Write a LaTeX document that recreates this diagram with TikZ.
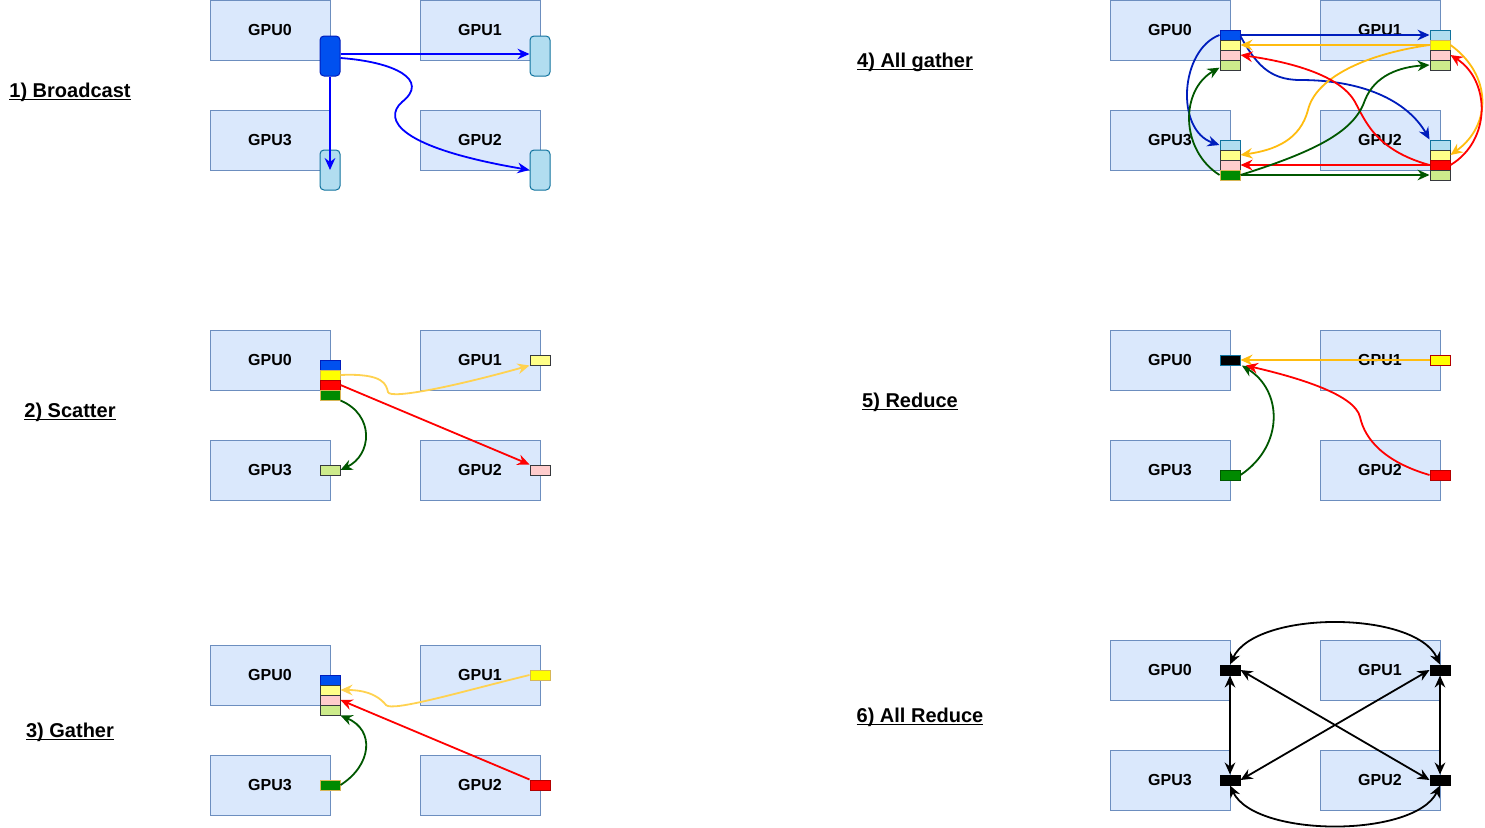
\documentclass[tikz,border=0pt]{standalone}
\usepackage{fontspec}
\setmainfont{Liberation Sans}
\usetikzlibrary{arrows.meta}

\definecolor{gpufill}{HTML}{DAE8FC}
\definecolor{gpuline}{HTML}{6C8EBF}
\definecolor{cdblue}{HTML}{0050EF}
\definecolor{cdblueline}{HTML}{001DBC}
\definecolor{clblue}{HTML}{B1DDF0}
\definecolor{clblueline}{HTML}{10739E}
\definecolor{cyel}{HTML}{FFFF00}
\definecolor{cyelline}{HTML}{D6B656}
\definecolor{clyel}{HTML}{FFFF88}
\definecolor{cred}{HTML}{FF0000}
\definecolor{credline}{HTML}{B20000}
\definecolor{clpink}{HTML}{FFCCCC}
\definecolor{cgrn}{HTML}{008A00}
\definecolor{clgrn}{HTML}{CDEB8B}
\definecolor{darkline}{HTML}{36393D}
\definecolor{bline}{HTML}{0000FF}
\definecolor{agblue}{HTML}{001DBC}
\definecolor{amber}{HTML}{FFD250}
\definecolor{amberdk}{HTML}{FFBC0F}
\definecolor{arrred}{HTML}{FF0000}
\definecolor{arrgrn}{HTML}{005700}

\newcommand\ultitle[1]{\underline{\raisebox{0pt}[\height][0.4pt]{#1}}}

\tikzset{
  gpu/.style={draw=gpuline, fill=gpufill, line width=0.75pt, inner sep=0,
    minimum width=90pt, minimum height=45pt, font=\fontsize{12}{14}\selectfont\bfseries},
  heading/.style={anchor=base, inner sep=0, font=\fontsize{15}{18}\selectfont\bfseries},
  cell/.style={draw=darkline, line width=0.75pt, inner sep=0, minimum width=15pt, minimum height=7.5pt},
  tall/.style={cell, minimum height=30pt, rounded corners=3pt},
  link/.style={line width=1.35pt, -{Stealth[length=9pt,width=8pt,inset=3pt]}},
  duplex/.style={line width=1.35pt, {Stealth[length=9pt,width=8pt,inset=3pt]}-{Stealth[length=9pt,width=8pt,inset=3pt]}},
}

\begin{document}
\begin{tikzpicture}[x=0.75pt, y=-0.75pt]
\useasboundingbox (0,0) rectangle (1485,828);

\foreach \s/\x/\y in {b/210/0, s/210/330, g/210/645, a/1110/0, r/1110/330, d/1110/640} {
  \node[gpu] (\s0) at (\x+60,\y+30) {GPU0};
  \node[gpu] (\s1) at (\x+270,\y+30) {GPU1};
  \node[gpu] (\s3) at (\x+60,\y+140) {GPU3};
  \node[gpu] (\s2) at (\x+270,\y+140) {GPU2};
}

\node[heading] (h1) at (70,97) {\ultitle{1) Broadcast}};
\node[heading] (h2) at (70,417) {\ultitle{2) Scatter}};
\node[heading] (h3) at (70,737) {\ultitle{3) Gather}};
\node[heading] (h4) at (915,67) {\ultitle{4) All gather}};
\node[heading] (h5) at (910,407) {\ultitle{5) Reduce}};
\node[heading] (h6) at (920,722) {\ultitle{6) All Reduce}};

% broadcast
\node[tall, fill=cdblue, draw=cdblueline] (bc0) at (330,56) {};
\node[tall, fill=clblue, draw=clblueline] (bc1) at (540,56) {};
\node[tall, fill=clblue, draw=clblueline] (bc3) at (330,170) {};
\node[tall, fill=clblue, draw=clblueline] (bc2) at (540,170) {};
\draw[link, bline] ([yshift=1.5pt]bc0.east) -- ([yshift=1.5pt]bc1.west);
\draw[link, bline] (bc0.south) -- (bc3.center);
\draw[link, bline] ([yshift=-1.5pt]bc0.east) .. controls (395,62) and (430,80) .. (402,102)
  .. controls (382,120) and (400,148) .. (bc2.west);

% scatter
\node[cell, fill=cdblue, draw=cdblueline] (sc0) at (330,365) {};
\node[cell, fill=cyel, draw=cyelline] (sc1) at (330,375) {};
\node[cell, fill=cred, draw=credline] (sc2) at (330,385) {};
\node[cell, fill=cgrn, draw=cyelline] (sc3) at (330,395) {};
\node[cell, fill=clyel] (st1) at (540,360) {};
\node[cell, fill=clpink] (st2) at (540,470) {};
\node[cell, fill=clgrn] (st3) at (330,470) {};
\draw[link, amber] (sc1.east) .. controls (385,373) and (386,385) .. (388,392)
  .. controls (390,400) and (460,385) .. (st1.south west);
\draw[link, arrred] (sc2.east) -- (st2.north west);
\draw[link, arrgrn] (sc3.south east) .. controls (375,415) and (372,455) .. (st3.east);

% gather
\node[cell, fill=cdblue, draw=cdblueline] (gc0) at (330,680) {};
\node[cell, fill=clyel] (gc1) at (330,690) {};
\node[cell, fill=clpink] (gc2) at (330,700) {};
\node[cell, fill=clgrn] (gc3) at (330,710) {};
\node[cell, fill=cyel, draw=cyelline] (gt1) at (540,675) {};
\node[cell, fill=cred, draw=credline] (gt2) at (540,785) {};
\node[cell, fill=cgrn, draw=cyelline] (gt3) at (330,785) {};
\draw[link, amber] (gt1.west) .. controls (460,692) and (392,712) .. (386,705)
  .. controls (382,700) and (372,690) .. (gc1.east);
\draw[link, arrred] (gt2.north west) -- (gc2.east);
\draw[link, arrgrn] (gt3.east) .. controls (372,765) and (375,730) .. (gc3.south east);

% all gather
\node[cell, fill=cdblue, draw=cdblueline] (a0b) at (1230,35) {};
\node[cell, fill=clyel] (a0y) at (1230,45) {};
\node[cell, fill=clpink] (a0p) at (1230,55) {};
\node[cell, fill=clgrn] (a0g) at (1230,65) {};
\node[cell, fill=clblue, draw=clblueline] (a1b) at (1440,35) {};
\node[cell, fill=cyel, draw=cyelline] (a1y) at (1440,45) {};
\node[cell, fill=clpink] (a1p) at (1440,55) {};
\node[cell, fill=clgrn] (a1g) at (1440,65) {};
\node[cell, fill=clblue, draw=clblueline] (a3b) at (1230,145) {};
\node[cell, fill=clyel] (a3y) at (1230,155) {};
\node[cell, fill=clpink] (a3p) at (1230,165) {};
\node[cell, fill=cgrn, draw=cyelline] (a3g) at (1230,175) {};
\node[cell, fill=clblue, draw=clblueline] (a2b) at (1440,145) {};
\node[cell, fill=clyel] (a2y) at (1440,155) {};
\node[cell, fill=cred, draw=credline] (a2p) at (1440,165) {};
\node[cell, fill=clgrn] (a2g) at (1440,175) {};
\draw[link, agblue] (a0b.east) -- (a1b.west);
\draw[link, agblue] (a0b.west) .. controls (1180,50) and (1175,130) .. (a3b.west);
\draw[link, agblue] ([yshift=-1pt]a0b.east) .. controls (1255,62) and (1268,80) .. (1300,80)
  .. controls (1370,80) and (1410,105) .. (a2b.north west);
\draw[link, amberdk] (a1y.west) -- (a0y.east);
\draw[link, amberdk] (a1y.west) .. controls (1360,55) and (1315,80) .. (1308,110)
  .. controls (1300,140) and (1275,150) .. (a3y.east);
\draw[link, amberdk] (a1y.east) .. controls (1492,75) and (1492,125) .. (a2y.east);
\draw[link, arrred] (a2p.west) -- (a3p.east);
\draw[link, arrred] (a2p.west) .. controls (1375,150) and (1365,120) .. (1355,102)
  .. controls (1340,75) and (1290,62) .. (a0p.east);
\draw[link, arrred] (a2p.east) .. controls (1492,140) and (1490,80) .. (a1p.east);
\draw[link, arrgrn] (a3g.east) -- (a2g.west);
\draw[link, arrgrn] (a3g.west) .. controls (1180,150) and (1180,90) .. ([yshift=-2pt]a0g.west);
\draw[link, arrgrn] (a3g.east) .. controls (1320,150) and (1355,130) .. (1365,100)
  .. controls (1375,75) and (1400,67) .. (a1g.west);

% reduce
\node[cell, fill=black, draw=clblueline] (rc0) at (1230,360) {};
\node[cell, fill=cyel, draw=credline] (rc1) at (1440,360) {};
\node[cell, fill=cgrn, draw=arrgrn] (rc3) at (1230,475) {};
\node[cell, fill=cred, draw=credline] (rc2) at (1440,475) {};
\draw[link, amberdk] (rc1.west) -- (rc0.east);
\draw[link, arrgrn] (rc3.east) .. controls (1285,445) and (1282,390) .. ([xshift=1pt]rc0.south east);
\draw[link, arrred] (rc2.west) .. controls (1385,462) and (1365,440) .. (1360,417)
  .. controls (1355,395) and (1300,378) .. ([xshift=4pt]rc0.south east);

% all reduce
\node[cell, fill=black, draw=black] (dc0) at (1230,670) {};
\node[cell, fill=black, draw=black] (dc1) at (1440,670) {};
\node[cell, fill=black, draw=black] (dc3) at (1230,780) {};
\node[cell, fill=black, draw=black] (dc2) at (1440,780) {};
\draw[duplex] (dc0.north) .. controls (1255,610) and (1415,610) .. (dc1.north);
\draw[duplex] (dc3.south) .. controls (1255,838) and (1415,838) .. (dc2.south);
\draw[duplex] (dc0.south) -- (dc3.north);
\draw[duplex] (dc1.south) -- (dc2.north);
\draw[duplex] (dc0.east) -- (dc2.west);
\draw[duplex] (dc1.west) -- (dc3.east);
\end{tikzpicture}
\end{document}
